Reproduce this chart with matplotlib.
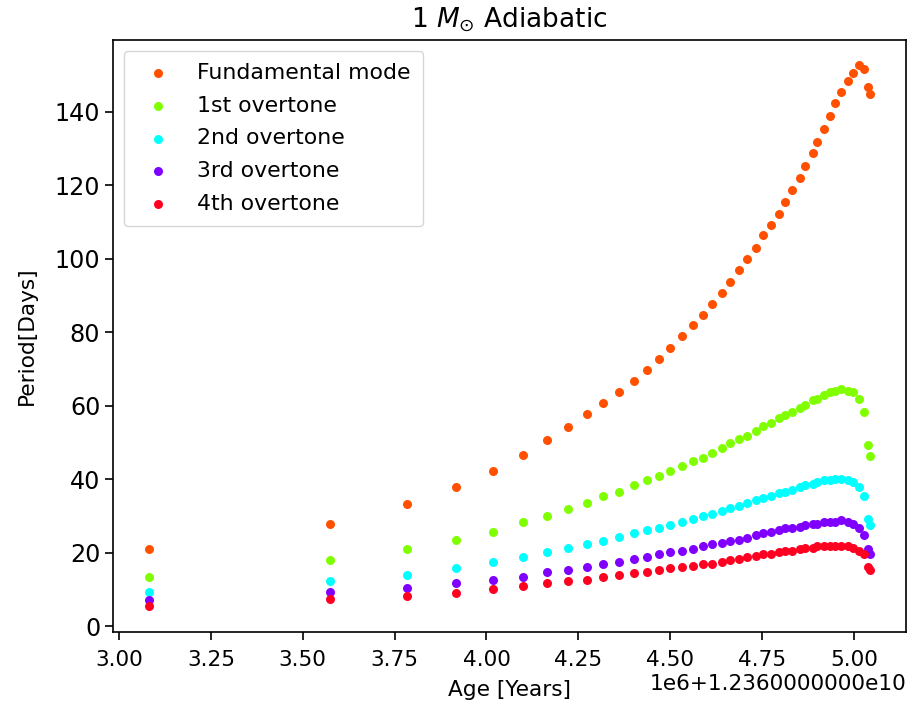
import matplotlib
matplotlib.use("Agg")
import matplotlib.pyplot as plt
from matplotlib.ticker import ScalarFormatter
import numpy as np

# Age offsets in units of 1e6 years, added to 1.236e10 years
age_base = 1.236e10
age_offset_myr = [3.0815, 3.573, 3.783, 3.917, 4.017, 4.100, 4.166, 4.223, 4.274, 4.318,
                  4.361, 4.401, 4.436, 4.471, 4.501, 4.532, 4.561, 4.589, 4.614, 4.640,
                  4.662, 4.688, 4.709, 4.735, 4.753, 4.775, 4.797, 4.814, 4.832, 4.853,
                  4.866, 4.888, 4.901, 4.918, 4.936, 4.950, 4.966, 4.984, 4.998, 5.014,
                  5.027, 5.040, 5.044]

fundamental = [20.9, 27.9, 33.2, 38.0, 42.3, 46.7, 50.7, 54.1, 57.7, 60.7,
               63.8, 66.8, 69.8, 72.8, 75.8, 78.9, 82.1, 84.7, 87.7, 90.8,
               93.8, 96.9, 99.9, 103.0, 106.5, 109.1, 112.2, 115.6, 118.7, 122.0,
               125.3, 128.8, 131.9, 135.3, 138.8, 142.4, 145.4, 148.5, 150.7, 152.7,
               151.6, 146.8, 145.0]

overtone1 = [13.4, 17.9, 20.9, 23.5, 25.7, 28.3, 30.1, 31.8, 33.6, 35.3,
             36.6, 38.4, 39.7, 41.0, 42.3, 43.6, 45.0, 45.8, 47.1, 48.4,
             49.8, 51.0, 51.9, 53.2, 54.5, 55.4, 56.7, 57.6, 58.4, 59.3,
             60.1, 61.5, 61.9, 62.8, 63.7, 64.1, 64.6, 64.1, 63.7, 61.9,
             58.4, 49.3, 46.2]

overtone2 = [9.2, 12.2, 13.9, 15.7, 17.4, 18.7, 20.1, 21.3, 22.3, 23.2,
             24.4, 25.3, 26.2, 26.6, 27.5, 28.3, 29.2, 30.1, 30.5, 31.4,
             32.2, 32.7, 33.6, 34.4, 34.9, 35.3, 36.2, 36.6, 37.1, 38.0,
             38.3, 38.8, 39.2, 39.7, 39.7, 40.1, 40.1, 39.7, 39.2, 38.0,
             35.3, 29.2, 27.4]

overtone3 = [7.0, 9.2, 10.4, 11.7, 12.6, 13.4, 14.8, 15.3, 16.1, 17.0,
             17.4, 18.3, 18.7, 19.6, 20.1, 20.4, 20.9, 21.8, 22.3, 22.6,
             23.1, 23.5, 24.0, 24.8, 25.3, 25.7, 26.2, 26.6, 26.6, 27.1,
             27.4, 27.9, 27.9, 28.3, 28.3, 28.3, 28.8, 28.3, 27.9, 26.6,
             24.8, 20.9, 19.6]

overtone4 = [5.5, 7.4, 8.3, 9.1, 10.0, 10.8, 11.7, 12.2, 12.6, 13.4,
             13.9, 14.4, 14.8, 15.3, 15.7, 16.1, 16.5, 17.0, 17.0, 17.4,
             17.9, 18.3, 18.7, 19.2, 19.6, 19.6, 20.1, 20.4, 20.4, 20.9,
             21.3, 21.3, 21.8, 21.8, 21.8, 21.8, 21.8, 21.8, 21.3, 20.4,
             19.6, 16.1, 15.3]

labels = ["Fundamental mode", "1st overtone", "2nd overtone", "3rd overtone", "4th overtone"]
colors = ["#ff5000", "#80ff00", "#00ffff", "#8000ff", "#ff0020"]
series = [fundamental, overtone1, overtone2, overtone3, overtone4]
offset_label = "1e6+1.2360000000e10"

ages = age_base + np.array(age_offset_myr) * 1e6


class OffsetFormatter(ScalarFormatter):
    def get_offset(self):
        return offset_label


fig = plt.figure(figsize=(9.08, 7.04), dpi=100)
ax = fig.add_axes([113 / 908, (704 - 632) / 704, (906 - 113) / 908, (632 - 40) / 704])

for vals, lab, col in zip(series, labels, colors):
    ax.scatter(ages, vals, s=42, color=col, label=lab, linewidths=0)

ax.set_ylim(-1.6, 159.6)
ax.xaxis.set_major_formatter(OffsetFormatter())

ax.set_title(r"1 $M_{\odot}$ Adiabatic", fontsize=19, pad=9)
ax.set_xlabel("Age [Years]", fontsize=15.6, labelpad=7)
ax.set_ylabel("Period[Days]", fontsize=15.6, labelpad=13)
ax.tick_params(axis="y", labelsize=17.2, length=5.6, width=1.2)
ax.tick_params(axis="x", labelsize=15.6, length=5.6, width=1.2, pad=7.5)
ax.xaxis.get_offset_text().set_fontsize(15.6)
for sp in ax.spines.values():
    sp.set_linewidth(1.2)

ax.legend(loc="upper left", fontsize=15.8, borderpad=0.55, labelspacing=0.58)

fig.savefig("out.png", dpi=100)
